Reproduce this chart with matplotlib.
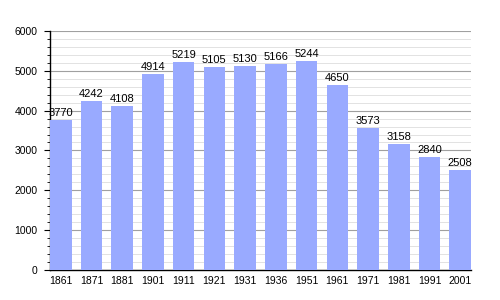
import matplotlib.pyplot as plt
from matplotlib.ticker import MultipleLocator

plt.rcParams['font.family'] = ['Liberation Sans', 'DejaVu Sans']

years = ['1861', '1871', '1881', '1901', '1911', '1921', '1931',
         '1936', '1951', '1961', '1971', '1981', '1991', '2001']
population = [3770, 4242, 4108, 4914, 5219, 5105, 5130,
              5166, 5244, 4650, 3573, 3158, 2840, 2508]

fig = plt.figure(figsize=(5, 3), dpi=100)
ax = fig.add_axes([0.10, 0.10, 0.842, 0.797])

x = range(len(years))
bars = ax.bar(x, population, width=0.7, color='#99aaff', zorder=3)

for xi, v in zip(x, population):
    ax.text(xi, v + 50, str(v), ha='center', va='bottom', fontsize=8, zorder=4)

ax.set_xlim(-0.35, len(years) - 0.65)
ax.set_ylim(0, 6000)
ax.set_xticks(list(x))
ax.set_xticklabels(years, fontsize=7.5)
ax.yaxis.set_major_locator(MultipleLocator(1000))
ax.yaxis.set_minor_locator(MultipleLocator(200))
ax.tick_params(axis='y', labelsize=7.5, length=4, width=0.8, pad=5)
ax.tick_params(axis='y', which='minor', length=2, width=0.6)
ax.tick_params(axis='x', length=0, pad=4)

ax.grid(axis='y', which='major', color='#a0a0a0', linewidth=0.8, zorder=0)
ax.grid(axis='y', which='minor', color='#dddddd', linewidth=0.6, zorder=0)

ax.spines['top'].set_visible(False)
ax.spines['right'].set_visible(False)
ax.spines['left'].set_linewidth(1)
ax.spines['bottom'].set_linewidth(1)

fig.savefig('out.png', dpi=100)
